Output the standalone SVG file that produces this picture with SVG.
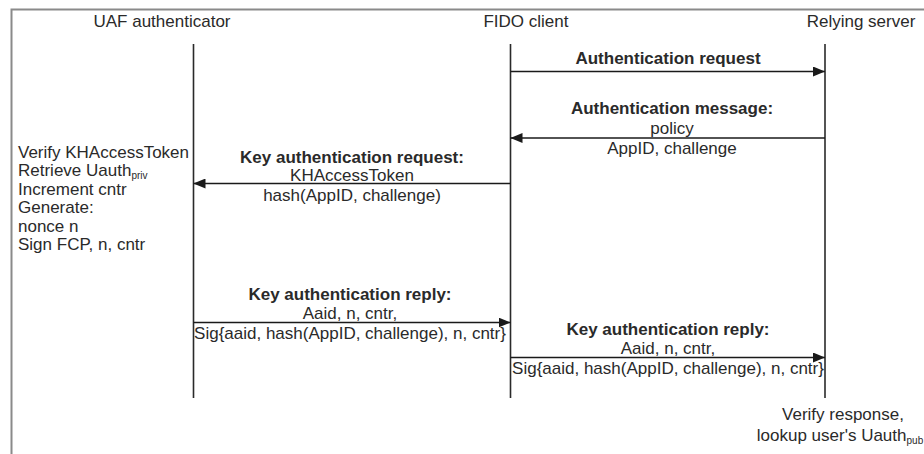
<svg xmlns="http://www.w3.org/2000/svg" width="924" height="454" viewBox="0 0 924 454">
  <style>
    text { font-family: "Liberation Sans", Arial, sans-serif; font-size: 17px; fill: #2a2a2a; }
    .b { font-weight: bold; }
    .m { text-anchor: middle; }
    .sub { font-size: 10px; }
    .frame { stroke: #8a8a8a; stroke-width: 2; fill: none; }
    .life { stroke: #2a2a2a; stroke-width: 1.6; fill: none; }
    .msg { stroke: #1a1a1a; stroke-width: 1.6; fill: none; marker-end: url(#head); }
  </style>
  <defs>
    <marker id="head" viewBox="0 0 12 10" refX="12" refY="5" markerWidth="12" markerHeight="10" markerUnits="userSpaceOnUse" orient="auto">
      <path d="M0,0 L12,5 L0,10 Z" fill="#1a1a1a"/>
    </marker>
  </defs>

  <rect width="924" height="454" fill="#ffffff"/>
  <!-- outer frame (top and left edges) -->
  <path class="frame" d="M11.5,454 V9.5 H924"/>

  <!-- participants with their lifelines -->
  <g id="uaf-authenticator">
    <text class="m" x="162" y="26.5">UAF authenticator</text>
    <line class="life" x1="193.5" y1="44" x2="193.5" y2="398"/>
  </g>
  <g id="fido-client">
    <text class="m" x="526" y="26.5">FIDO client</text>
    <line class="life" x1="510.5" y1="44" x2="510.5" y2="398"/>
  </g>
  <g id="relying-server">
    <text class="m" x="861" y="26.5">Relying server</text>
    <line class="life" x1="825" y1="44" x2="825" y2="398"/>
  </g>

  <!-- local steps -->
  <g id="authenticator-steps">
    <text x="18" y="157.5">Verify KHAccessToken</text>
    <text x="18" y="176">Retrieve Uauth<tspan class="sub" dy="3">priv</tspan></text>
    <text x="18" y="194.5">Increment cntr</text>
    <text x="18" y="213">Generate:</text>
    <text x="18" y="231.5">nonce n</text>
    <text x="18" y="250">Sign FCP, n, cntr</text>
  </g>
  <g id="server-steps">
    <text class="m" x="843" y="420">Verify response,</text>
    <text class="m" x="840" y="441">lookup user's Uauth<tspan class="sub" dy="3">pub</tspan></text>
  </g>

  <!-- messages -->
  <g id="connectors">
    <line class="msg" x1="510.5" y1="71.5" x2="825" y2="71.5"/>
    <line class="msg" x1="825" y1="138" x2="510.5" y2="138"/>
    <line class="msg" x1="510.5" y1="183.5" x2="193.5" y2="183.5"/>
    <line class="msg" x1="193.5" y1="322.5" x2="510.5" y2="322.5"/>
    <line class="msg" x1="510.5" y1="357.5" x2="825" y2="357.5"/>
  </g>

  <g id="msg-auth-request">
    <text class="m b" x="668" y="64">Authentication request</text>
  </g>
  <g id="msg-auth-message">
    <text class="m b" x="672" y="114">Authentication message:</text>
    <text class="m" x="672" y="133.5">policy</text>
    <text class="m" x="672" y="154">AppID, challenge</text>
  </g>
  <g id="msg-key-auth-request">
    <text class="m b" x="352" y="162.5">Key authentication request:</text>
    <text class="m" x="352" y="181">KHAccessToken</text>
    <text class="m" x="352" y="201">hash(AppID, challenge)</text>
  </g>
  <g id="msg-key-auth-reply-1">
    <text class="m b" x="350" y="300">Key authentication reply:</text>
    <text class="m" x="350" y="319">Aaid, n, cntr,</text>
    <text class="m" x="350" y="339">Sig{aaid, hash(AppID, challenge), n, cntr}</text>
  </g>
  <g id="msg-key-auth-reply-2">
    <text class="m b" x="668" y="335">Key authentication reply:</text>
    <text class="m" x="668" y="353.5">Aaid, n, cntr,</text>
    <text class="m" x="668" y="374">Sig{aaid, hash(AppID, challenge), n, cntr}</text>
  </g>
</svg>
